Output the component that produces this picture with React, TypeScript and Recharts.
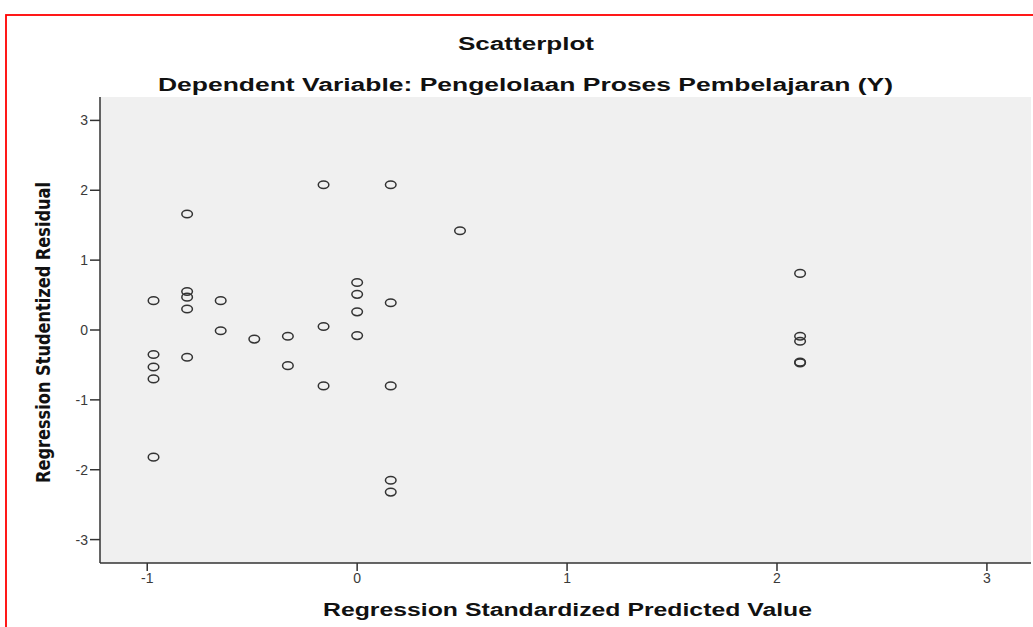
import { ScatterChart, Scatter, XAxis, YAxis, CartesianGrid } from 'recharts';

// Regression Standardized Predicted Value (x) / Regression Studentized Residual (y)
const predicted = [
  -0.97, -0.97, -0.97, -0.97, -0.97,
  -0.81, -0.81, -0.81, -0.81, -0.81,
  -0.65, -0.65,
  -0.49,
  -0.33, -0.33,
  -0.16, -0.16, -0.16,
  0.0, 0.0, 0.0, 0.0,
  0.16, 0.16, 0.16, 0.16, 0.16,
  0.49,
  2.11, 2.11, 2.11, 2.11, 2.11,
];
const residual = [
  0.42, -0.35, -0.53, -0.7, -1.82,
  1.66, 0.55, 0.47, 0.3, -0.39,
  0.42, -0.01,
  -0.13,
  -0.09, -0.51,
  2.08, 0.05, -0.8,
  0.68, 0.51, 0.26, -0.08,
  2.08, 0.39, -0.8, -2.15, -2.32,
  1.42,
  0.81, -0.09, -0.16, -0.46, -0.47,
];
const xTicks = [-1, 0, 1, 2, 3];
const yTicks = [-3, -2, -1, 0, 1, 2, 3];

const points = predicted.map((x, i) => ({ x, y: residual[i] }));

const W = 1033;
const H = 627;
const tickStyle = { fontSize: 14, fill: '#3a3a3a', fontFamily: 'Liberation Sans, Arial, sans-serif' };

function Ring(props: any) {
  const { cx, cy } = props;
  return <ellipse cx={cx} cy={cy} rx={5.3} ry={3.8} fill="none" stroke="#333" strokeWidth={1.5} />;
}

export default function App() {
  return (
    <div style={{ position: 'absolute', left: 0, top: 0, width: W, height: H, background: '#fff' }}>
      <ScatterChart width={W} height={H} margin={{ top: 97, right: 2, bottom: 0, left: 0 }}>
        <CartesianGrid fill="#f0f0f0" horizontal={false} vertical={false} />
        <XAxis
          type="number"
          dataKey="x"
          domain={[-1.225, 3.21]}
          ticks={xTicks}
          allowDataOverflow
          height={64}
          tickSize={8}
          tick={tickStyle}
          stroke="#333"
          strokeWidth={1.5}
        />
        <XAxis xAxisId="top" orientation="top" type="number" domain={[0, 1]} height={0} tick={false} tickLine={false} stroke="#8c8c8c" strokeWidth={1.5} />
        <YAxis
          type="number"
          dataKey="y"
          domain={[-3.335, 3.335]}
          ticks={yTicks}
          allowDataOverflow
          width={100}
          tickSize={10}
          tick={tickStyle}
          stroke="#333"
          strokeWidth={1.5}
        />
        <YAxis yAxisId="right" orientation="right" type="number" domain={[0, 1]} width={0} tick={false} tickLine={false} stroke="#8c8c8c" strokeWidth={1.5} />
        <Scatter data={points} shape={<Ring />} isAnimationActive={false} />
      </ScatterChart>
      <svg width={W} height={H} style={{ position: 'absolute', left: 0, top: 0, pointerEvents: 'none' }}>
        <rect x={6} y={15} width={1100} height={700} fill="none" stroke="#f00" strokeWidth={1.8} />
        <g fontFamily="Liberation Sans, Arial, sans-serif" fontWeight="bold" fill="#111">
          <text x={526} y={49.5} fontSize={17.5} textAnchor="middle" textLength={136} lengthAdjust="spacingAndGlyphs">
            Scatterplot
          </text>
          <text x={525.5} y={90.5} fontSize={17.5} textAnchor="middle" textLength={735} lengthAdjust="spacingAndGlyphs">
            Dependent Variable: Pengelolaan Proses Pembelajaran (Y)
          </text>
          <text x={567.5} y={616} fontSize={18} textAnchor="middle" textLength={489} lengthAdjust="spacingAndGlyphs">
            Regression Standardized Predicted Value
          </text>
        </g>
        <text
          transform="translate(50,332.5) rotate(-90)"
          fontFamily="Liberation Sans Narrow, Arial Narrow, DejaVu Sans Condensed, sans-serif"
          fontWeight="bold"
          fontSize={20}
          fill="#111"
          textAnchor="middle"
          textLength={301}
          lengthAdjust="spacingAndGlyphs"
        >
          Regression Studentized Residual
        </text>
      </svg>
    </div>
  );
}
